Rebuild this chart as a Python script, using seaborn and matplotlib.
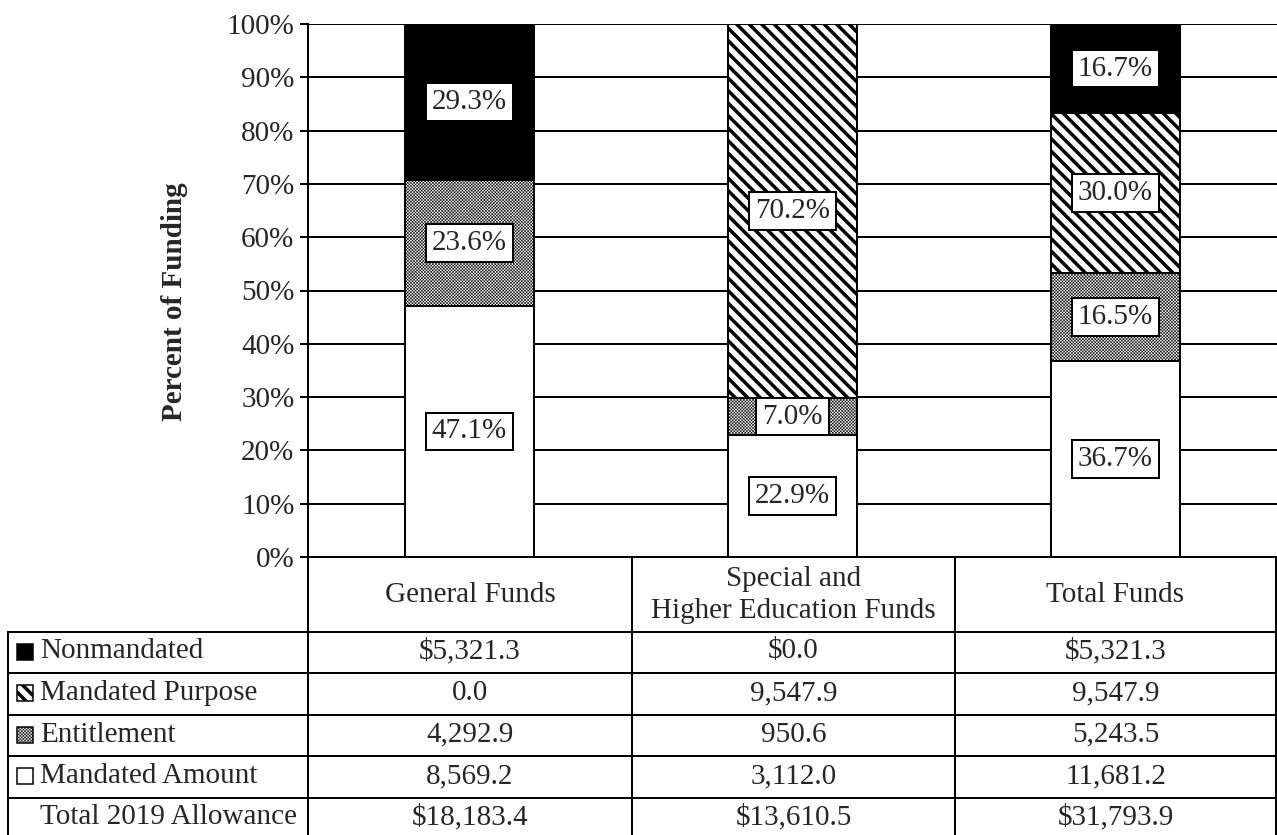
#!/usr/bin/env python3
import numpy as np
import pandas as pd
import matplotlib
matplotlib.use("Agg")
import matplotlib.pyplot as plt
import seaborn as sns
from matplotlib.patches import Rectangle
from matplotlib.lines import Line2D

# data (millions $)
funds = ["General Funds", "Special and\nHigher Education Funds", "Total Funds"]
categories = ["Nonmandated", "Mandated Purpose", "Entitlement", "Mandated Amount"]
nonmandated = [5321.3, 0.0, 5321.3]
mandated_purpose = [0.0, 9547.9, 9547.9]
entitlement = [4292.9, 950.6, 5243.5]
mandated_amount = [8569.2, 3112.0, 11681.2]
totals = [18183.4, 13610.5, 31793.9]
total_label = "Total 2019 Allowance"

W, H = 1277, 835
DPI = 75


def px(v):
    # pixel size -> points
    return v * 72 / DPI


def fx(x):
    return x / W


def fy(y):
    return 1 - y / H


def money(v, dollar):
    s = f"{v:,.1f}"
    return "$" + s if dollar else s


def hatch_lw(artist, lw):
    # hatch line width is global in mpl, so force it per artist
    if hasattr(artist, "set_hatch_linewidth"):
        artist.set_hatch_linewidth(lw)
    orig = artist.draw

    def draw(renderer):
        with plt.rc_context({"hatch.linewidth": lw}):
            orig(renderer)
    artist.draw = draw


def main():
    sns.set_theme(style="white")
    plt.rcParams["font.family"] = ["Liberation Serif", "DejaVu Serif"]
    fs = 28

    fig = plt.figure(figsize=(W / DPI, H / DPI), dpi=DPI)
    ax = fig.add_axes([fx(308), fy(557), fx(1277 - 308), (557 - 24) / H])

    # stack order bottom -> top, with style per layer
    layers = [
        ("Mandated Amount", mandated_amount, "white", None, 1.0),
        ("Entitlement", entitlement, "white", "xxxxxxxx", 0.55),
        ("Mandated Purpose", mandated_purpose, "white", "\\\\", 3.5),
        ("Nonmandated", nonmandated, "black", None, 1.0),
    ]
    styles = {name: (fc, h, hl) for name, _, fc, h, hl in layers}

    pct = {name: np.array(vals) / np.array(totals) * 100 for name, vals, *_ in layers}
    cum = {}
    running = np.zeros(len(funds))
    for name, *_ in layers:
        running = running + pct[name]
        cum[name] = running.copy()

    # draw tallest cumulative first, then overlay the lower ones
    for name, vals, fc, hatch, hlw in reversed(layers):
        df = pd.DataFrame({"Fund": funds, "Top": cum[name]})
        n0 = len(ax.patches)
        with plt.rc_context({"hatch.linewidth": px(hlw)}):
            sns.barplot(data=df, x="Fund", y="Top", color=fc, saturation=1,
                        width=0.4, edgecolor="black", linewidth=px(2), ax=ax)
        for p in ax.patches[n0:]:
            p.set_facecolor(fc)
            if hatch:
                p.set_hatch(hatch)
                hatch_lw(p, px(hlw))

    # percent labels
    bottom = np.zeros(len(funds))
    for name, *_ in layers:
        for i in range(len(funds)):
            v = pct[name][i]
            if v > 0:
                ax.text(i, bottom[i] + v / 2, f"{v:.1f}%", ha="center", va="center",
                        fontsize=fs, zorder=5,
                        bbox=dict(boxstyle="square,pad=0.2", fc="white",
                                  ec="black", lw=px(2)))
        bottom = bottom + pct[name]

    ax.set_ylim(0, 100)
    ax.set_xlim(-0.5, 2.5)
    ax.set_yticks(range(0, 101, 10))
    ax.set_yticklabels([f"{t}%" for t in range(0, 101, 10)], fontsize=fs)
    ax.set_xticks([])
    ax.set_xlabel("")
    ax.set_ylabel("")
    ax.tick_params(axis="y", length=8, width=px(2), color="black", pad=5, left=True)
    ax.yaxis.grid(True, color="black", lw=px(2))
    ax.set_axisbelow(True)
    for s in ["top", "right", "bottom"]:
        ax.spines[s].set_visible(False)
    ax.spines["left"].set_color("black")
    ax.spines["left"].set_linewidth(px(2))
    ax.text(fx(174), fy(302), "Percent of Funding", transform=fig.transFigure,
            rotation=90, ha="center", va="center", fontsize=fs, fontweight="bold")

    # data table under the chart
    col_x = [308, 632, 955, 1276]
    row_y = [632, 673, 715, 756, 798, 840]
    lw = px(2)
    for x in col_x:
        fig.add_artist(Line2D([fx(x), fx(x)], [fy(557), fy(H)], color="black", lw=lw,
                              transform=fig.transFigure))
    fig.add_artist(Line2D([fx(8), fx(8)], [fy(632), fy(H)], color="black", lw=lw,
                          transform=fig.transFigure))
    fig.add_artist(Line2D([fx(308), fx(1276)], [fy(557), fy(557)], color="black", lw=lw,
                          transform=fig.transFigure))
    for y in row_y[:-1]:
        fig.add_artist(Line2D([fx(8), fx(1276)], [fy(y), fy(y)], color="black", lw=lw,
                              transform=fig.transFigure))

    # header
    for j, f in enumerate(funds):
        cx = (col_x[j] + col_x[j + 1]) / 2
        fig.text(fx(cx), fy(595), f, ha="center", va="center", fontsize=fs,
                 linespacing=1.3)

    rows = [
        ("Nonmandated", nonmandated, True),
        ("Mandated Purpose", mandated_purpose, False),
        ("Entitlement", entitlement, False),
        ("Mandated Amount", mandated_amount, False),
        (total_label, totals, True),
    ]
    for r, (name, vals, dollar) in enumerate(rows):
        cy = (row_y[r] + row_y[r + 1]) / 2 - 1
        if r == len(rows) - 1:
            cy = 817
        fig.text(fx(40), fy(cy), name, ha="left", va="center", fontsize=fs)
        if name in styles:
            fc, hatch, hlw = styles[name]
            sq = Rectangle((fx(17), fy(cy + 8)), fx(16), 16 / H, transform=fig.transFigure,
                           fc=fc, ec="black", lw=px(1.5), hatch=hatch)
            if hatch:
                hatch_lw(sq, px(hlw))
            fig.add_artist(sq)
        for j, v in enumerate(vals):
            cx = (col_x[j] + col_x[j + 1]) / 2
            fig.text(fx(cx), fy(cy), money(v, dollar), ha="center", va="center", fontsize=fs)

    fig.savefig("out.png", dpi=DPI)


if __name__ == "__main__":
    main()
